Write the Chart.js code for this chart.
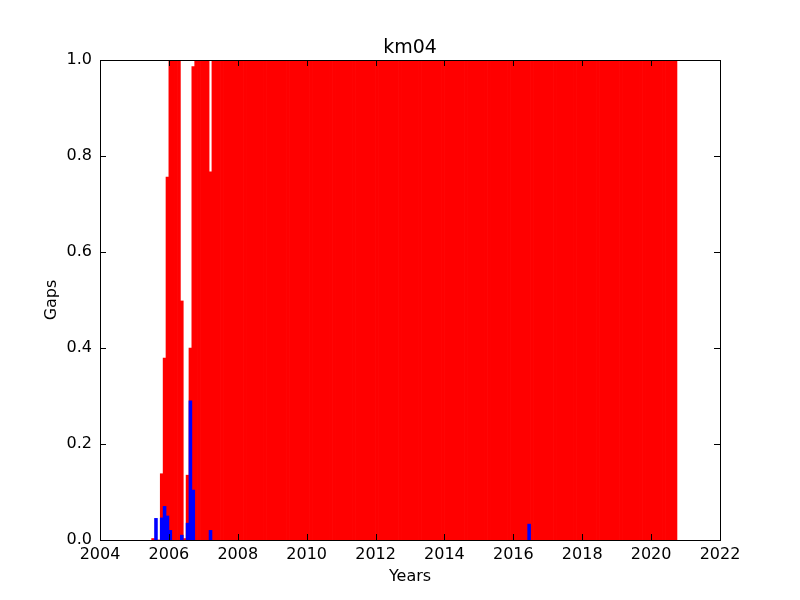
<!DOCTYPE html>
<html>
<head>
<meta charset="utf-8">
<title>km04</title>
<script src="https://cdn.jsdelivr.net/npm/chart.js@4.4.1/dist/chart.umd.min.js"></script>
<style>
  body { margin: 0; background: #fff; }
</style>
</head>
<body>
<canvas id="gaps" width="800" height="600"></canvas>
<script>
// red bars: one value per month, starting Jul 2005
const redStart = "2005-07";
const redValues = [
  0.003, 0, 0, 0.138, 0.379, 0.756,                      // 2005 Jul-Dec
  1, 1, 1, 1, 0.498, 0.003, 0.135, 0.40, 0.986, 1, 1, 1,  // 2006
  1, 1, 0.767, 1, 1, 1, 1, 1, 1, 1, 1, 1,                 // 2007
  1, 1, 1, 1, 1, 1, 1, 1, 1, 1, 1, 1,                     // 2008
  1, 1, 1, 1, 1, 1, 1, 1, 1, 1, 1, 1,                     // 2009
  1, 1, 1, 1, 1, 1, 1, 1, 1, 1, 1, 1,                     // 2010
  1, 1, 1, 1, 1, 1, 1, 1, 1, 1, 1, 1,                     // 2011
  1, 1, 1, 1, 1, 1, 1, 1, 1, 1, 1, 1,                     // 2012
  1, 1, 1, 1, 1, 1, 1, 1, 1, 1, 1, 1,                     // 2013
  1, 1, 1, 1, 1, 1, 1, 1, 1, 1, 1, 1,                     // 2014
  1, 1, 1, 1, 1, 1, 1, 1, 1, 1, 1, 1,                     // 2015
  1, 1, 1, 1, 1, 1, 1, 1, 1, 1, 1, 1,                     // 2016
  1, 1, 1, 1, 1, 1, 1, 1, 1, 1, 1, 1,                     // 2017
  1, 1, 1, 1, 1, 1, 1, 1, 1, 1, 1, 1,                     // 2018
  1, 1, 1, 1, 1, 1, 1, 1, 1, 1, 1, 1,                     // 2019
  1, 1, 1, 1, 1, 1, 1, 1, 1                               // 2020 Jan-Sep
];

// blue bars: only the months where they show
const blueMonths = ["2005-08", "2005-10", "2005-11", "2005-12", "2006-01", "2006-05",
                    "2006-07", "2006-08", "2006-09", "2007-03", "2016-06"];
const blueValues = [0.045, 0.046, 0.07, 0.05, 0.02, 0.01,
                    0.035, 0.29, 0.104, 0.02, 0.033];

const xTicks = [2004, 2006, 2008, 2010, 2012, 2014, 2016, 2018, 2020, 2022];
const yTicks = [0, 0.2, 0.4, 0.6, 0.8, 1.0];

// "2005-08" -> month count since year 0
function monthCount(s) {
  const [y, m] = s.split("-").map(Number);
  return y * 12 + (m - 1);
}
// middle of the month as a decimal year (same arithmetic for both series)
const monthMid = (n) => (n + 0.5) / 12;

const redFirst = monthCount(redStart);
const redData = redValues.map((v, i) => ({ x: monthMid(redFirst + i), y: v }));
const blueData = blueMonths.map((m, i) => ({ x: monthMid(monthCount(m)), y: blueValues[i] }));

// title, box around the axes and inward ticks on all sides (matplotlib classic look)
const framePlugin = {
  id: "frame",
  afterDraw(chart) {
    const { ctx, chartArea: a, scales } = chart;
    const len = 6;
    ctx.save();
    ctx.strokeStyle = "#000";
    ctx.lineWidth = 1;
    ctx.strokeRect(a.left + 0.5, a.top + 0.5, a.width, a.height);
    ctx.beginPath();
    xTicks.forEach((t) => {
      const px = Math.round(scales.x.getPixelForValue(t)) + 0.5;
      ctx.moveTo(px, a.bottom);
      ctx.lineTo(px, a.bottom - len);
      ctx.moveTo(px, a.top);
      ctx.lineTo(px, a.top + len);
    });
    yTicks.forEach((t) => {
      const py = Math.round(scales.y.getPixelForValue(t)) + 0.5;
      ctx.moveTo(a.left, py);
      ctx.lineTo(a.left + len, py);
      ctx.moveTo(a.right, py);
      ctx.lineTo(a.right - len, py);
    });
    ctx.stroke();

    ctx.fillStyle = "#000";
    ctx.font = "19px 'DejaVu Sans', sans-serif";
    ctx.textAlign = "center";
    ctx.textBaseline = "alphabetic";
    ctx.fillText("km04", (a.left + a.right) / 2, a.top - 7);
    ctx.restore();
  }
};

Chart.defaults.font.family = "'DejaVu Sans', sans-serif";
Chart.defaults.color = "#000";

const ctx = document.getElementById("gaps").getContext("2d");
new Chart(ctx, {
  type: "bar",
  data: {
    datasets: [
      {
        label: "blue",
        data: blueData,
        backgroundColor: "#0000ff",
        order: 0
      },
      {
        label: "red",
        data: redData,
        backgroundColor: "#ff0000",
        order: 1
      }
    ]
  },
  options: {
    responsive: false,
    animation: false,
    devicePixelRatio: 1,
    grouped: false,
    barPercentage: 1,
    categoryPercentage: 1,
    borderWidth: 0,
    inflateAmount: 0.35,
    layout: { padding: { top: 60, right: 80, bottom: 0, left: 0 } },
    plugins: {
      legend: { display: false },
      tooltip: { enabled: false },
      title: { display: false }
    },
    scales: {
      x: {
        type: "linear",
        min: 2004,
        max: 2022,
        offset: false,
        grid: { display: false, drawTicks: false, offset: false },
        border: { display: false },
        afterBuildTicks: (scale) => {
          scale.ticks = xTicks.map((v) => ({ value: v }));
        },
        ticks: {
          font: { size: 16 },
          padding: 5,
          maxRotation: 0,
          autoSkip: false,
          callback: (v) => String(v)
        },
        title: {
          display: true,
          text: "Years",
          font: { size: 16 },
          padding: { top: 0, bottom: 14 }
        },
        afterFit: (scale) => { scale.height = 60; }
      },
      y: {
        min: 0,
        max: 1,
        grid: { display: false, drawTicks: false },
        border: { display: false },
        afterBuildTicks: (scale) => {
          scale.ticks = yTicks.map((v) => ({ value: v }));
        },
        ticks: {
          font: { size: 16 },
          padding: 8,
          callback: (v) => v.toFixed(1)
        },
        title: {
          display: true,
          text: "Gaps",
          font: { size: 16 },
          padding: { top: 42, bottom: 0 }
        },
        afterFit: (scale) => { scale.width = 100; }
      }
    }
  },
  plugins: [framePlugin]
});
</script>
</body>
</html>
